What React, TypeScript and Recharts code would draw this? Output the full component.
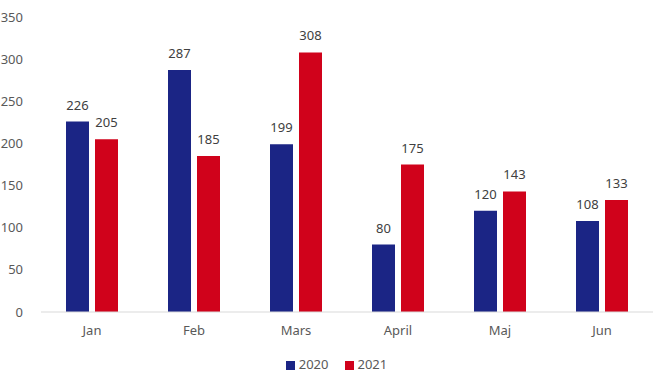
import { BarChart, Bar, XAxis, YAxis, Legend, LabelList } from 'recharts';

const months = ['Jan', 'Feb', 'Mars', 'April', 'Maj', 'Jun'];
const values2020 = [226, 287, 199, 80, 120, 108];
const values2021 = [205, 185, 308, 175, 143, 133];
const yTicks = [0, 50, 100, 150, 200, 250, 300, 350];

const data = months.map((m, i) => ({ month: m, y2020: values2020[i], y2021: values2021[i] }));

const font = 'Noto Sans, sans-serif';

export default function App() {
  return (
    <div style={{ position: 'fixed', left: 0, top: 0, width: 656, height: 378, background: '#fff' }}>
      <BarChart
        width={656}
        height={378}
        data={data}
        margin={{ top: 17, right: 3, left: 0, bottom: 10 }}
        barGap={6}
        barSize={23}
      >
        <XAxis
          dataKey="month"
          axisLine={{ stroke: '#d9d9d9' }}
          tickLine={false}
          height={30}
          tick={{ fill: '#595959', fontSize: 13, fontFamily: font }}
          tickMargin={8}
        />
        <YAxis
          width={41}
          domain={[0, 350]}
          ticks={yTicks}
          axisLine={false}
          tickLine={false}
          tick={{ fill: '#595959', fontSize: 13, fontFamily: font }}
          tickMargin={12}
        />
        <Legend
          verticalAlign="bottom"
          height={26}
          iconType="square"
          iconSize={9}
          wrapperStyle={{ fontFamily: font, fontSize: 13, color: '#595959', bottom: -3, paddingLeft: 18 }}
          formatter={(v: string) => <span style={{ color: '#595959', marginRight: 6 }}>{v}</span>}
        />
        <Bar dataKey="y2020" name="2020" fill="#1b2585" isAnimationActive={false}>
          <LabelList dataKey="y2020" position="top" offset={12} fill="#404040" fontSize={13} fontFamily={font} />
        </Bar>
        <Bar dataKey="y2021" name="2021" fill="#d0021b" isAnimationActive={false}>
          <LabelList dataKey="y2021" position="top" offset={12} fill="#404040" fontSize={13} fontFamily={font} />
        </Bar>
      </BarChart>
    </div>
  );
}
